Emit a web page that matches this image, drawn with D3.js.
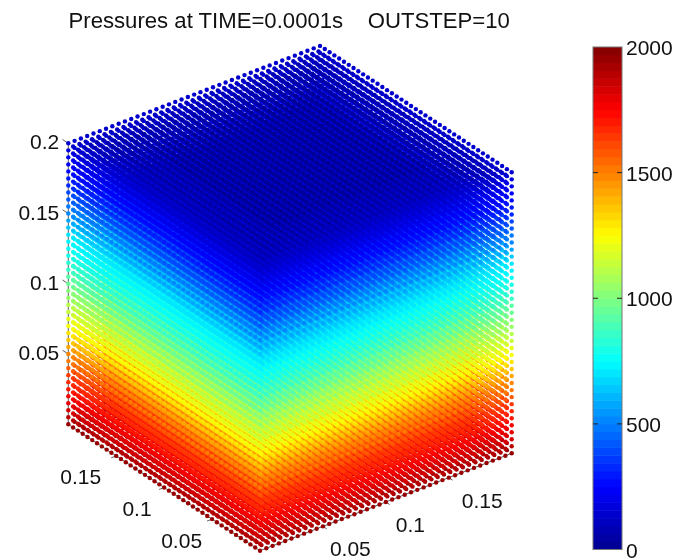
<!DOCTYPE html>
<html>
<head>
<meta charset="utf-8">
<script src="https://d3js.org/d3.v7.min.js"></script>
<style>
  body { margin: 0; background: #fff; }
  #viz { position: relative; width: 677px; height: 560px; overflow: hidden; }
  #viz svg, #viz canvas { position: absolute; left: 0; top: 0; }
  text { font-family: "Liberation Sans", Arial, sans-serif; fill: #111; }
</style>
</head>
<body>
<div id="viz"></div>
<script>
var width = 677;
var height = 560;

// grid coordinates of the solver nodes (metres), 41 per side
var gridCoords = [0, 0.005, 0.01, 0.015, 0.02, 0.025, 0.03, 0.035, 0.04, 0.045, 0.05, 0.055, 0.06, 0.065,
  0.07, 0.075, 0.08, 0.085, 0.09, 0.095, 0.1, 0.105, 0.11, 0.115, 0.12, 0.125, 0.13, 0.135, 0.14, 0.145,
  0.15, 0.155, 0.16, 0.165, 0.17, 0.175, 0.18, 0.185, 0.19, 0.195, 0.2];

var pressureByHeight = [1960, 1890, 1840, 1790, 1750, 1710, 1670, 1630, 1590, 1530, 1470, 1410, 1350, 1290,
  1240, 1200, 1150, 1110, 1060, 1010, 960, 915, 870, 830, 795, 760, 725, 690, 640, 590,
  530, 480, 430, 380, 340, 300, 265, 230, 195, 160, 130];

// pressure change going inwards, by number of nodes from the nearest wall
var pressureByWallDistance = [0, -25, -45, -60, -72, -82, -90, -95, -100, -103, -105, -107, -108, -109, -110, -110, -110, -110, -110, -110, -110];

var xTicks = [0.05, 0.1, 0.15];
var yTicks = [0.05, 0.1, 0.15];
var zTicks = [0.05, 0.1, 0.15, 0.2];
var barTicks = [0, 500, 1000, 1500, 2000];
var barLevels = d3.range(64);

var titleText = "Pressures at TIME=0.0001s    OUTSTEP=10";

// one scale per axis and screen direction, added up in project()
var xToPx = d3.scaleLinear().domain([0, 0.2]).range([0, 251.7]);
var xToPy = d3.scaleLinear().domain([0, 0.2]).range([0, -97.4]);
var yToPx = d3.scaleLinear().domain([0, 0.2]).range([0, -191.7]);
var yToPy = d3.scaleLinear().domain([0, 0.2]).range([0, -126.4]);
var zToPy = d3.scaleLinear().domain([0, 0.2]).range([0, -281]);
var originX = 260;
var originY = 550.7;

function project(x, y, z) {
  return [originX + xToPx(x) + yToPx(y), originY + xToPy(x) + yToPy(y) + zToPy(z)];
}

// jet colormap, 64 steps like the colorbar
var jet = d3.scaleLinear()
  .domain([0, 0.125, 0.375, 0.625, 0.875, 1])
  .range(["#00008f", "#0000ff", "#00ffff", "#ffff00", "#ff0000", "#800000"])
  .clamp(true);
var pressureToLevel = d3.scaleQuantize().domain([0, 2000]).range(barLevels);
function levelColor(l) {
  return jet((l + 0.5) / 64);
}

var svg = d3.select("#viz").append("svg").attr("width", width).attr("height", height);
var canvas = d3.select("#viz").append("canvas").attr("width", width).attr("height", height);
var ctx = canvas.node().getContext("2d");
var labels = d3.select("#viz").append("svg").attr("width", width).attr("height", height);

// title
labels.append("text")
  .attr("x", 68.5)
  .attr("y", 27.5)
  .attr("font-size", 22.15)
  .style("white-space", "pre")
  .text(titleText);

// 3d axes
var axisColor = "#333";

function axisLine(a, b) {
  var p = project(a[0], a[1], a[2]);
  var q = project(b[0], b[1], b[2]);
  svg.append("line")
    .attr("x1", p[0]).attr("y1", p[1])
    .attr("x2", q[0]).attr("y2", q[1])
    .attr("stroke", axisColor)
    .attr("stroke-width", 0.8);
}

axisLine([0, 0.2, 0], [0, 0.2, 0.2]);
axisLine([0, 0, 0], [0, 0.2, 0]);
axisLine([0, 0, 0], [0.2, 0, 0]);

zTicks.forEach(function(t) {
  axisLine([0, 0.2, t], [0, 0.206, t]);
  var p = project(0, 0.2, t);
  labels.append("text").attr("x", p[0] - 9).attr("y", p[1] + 6)
    .attr("text-anchor", "end").attr("font-size", 21).text(t);
});

// labels drift a little along the axis, as in the original
var yLabelShift = d3.scaleLinear().domain([0.05, 0.15]).range([-10, -15]);
var xLabelShift = d3.scaleLinear().domain([0.05, 0.15]).range([7, 13]);

yTicks.forEach(function(t) {
  axisLine([0, t, 0], [-0.004, t, 0]);
  var p = project(0, t, 0);
  labels.append("text").attr("x", p[0] + yLabelShift(t)).attr("y", p[1] + 28.5)
    .attr("text-anchor", "end").attr("font-size", 21).text(t);
});

xTicks.forEach(function(t) {
  axisLine([t, 0, 0], [t, -0.004, 0]);
  var p = project(t, 0, 0);
  labels.append("text").attr("x", p[0] + xLabelShift(t)).attr("y", p[1] + 30)
    .attr("font-size", 21).text(t);
});

// all nodes of the cube, far ones first so the near faces end on top
var nodes = [];
gridCoords.forEach(function(x, i) {
  gridCoords.forEach(function(y, j) {
    gridCoords.forEach(function(z, k) {
      var wall = Math.min(i, j, 40 - i, 40 - j);
      nodes.push({
        x: x, y: y, z: z,
        p: Math.max(10, pressureByHeight[k] + pressureByWallDistance[wall]),
        depth: -53868 * x - 70728 * y + 50487 * z
      });
    });
  });
});
nodes.sort(function(a, b) { return a.depth - b.depth; });

var dotR = 2.2;
nodes.forEach(function(d) {
  var p = project(d.x, d.y, d.z);
  ctx.fillStyle = levelColor(pressureToLevel(d.p));
  ctx.beginPath();
  ctx.arc(p[0], p[1], dotR, 0, 2 * Math.PI);
  ctx.fill();
});

// colorbar
var barY = d3.scaleLinear().domain([0, 2000]).range([549.5, 47]);
var barX = [593, 622];
var bar = svg.append("g");

bar.selectAll("rect")
  .data(barLevels)
  .enter()
  .append("rect")
  .attr("x", barX[0])
  .attr("width", barX[1] - barX[0])
  .attr("y", function(l) { return barY((l + 1) * 2000 / 64); })
  .attr("height", function(l) { return barY(l * 2000 / 64) - barY((l + 1) * 2000 / 64) + 0.5; })
  .attr("fill", levelColor);

bar.append("rect")
  .attr("x", barX[0]).attr("y", barY(2000))
  .attr("width", barX[1] - barX[0]).attr("height", barY(0) - barY(2000))
  .attr("fill", "none")
  .attr("stroke", "#777")
  .attr("stroke-width", 1);

barTicks.forEach(function(t) {
  if(t > 0 && t < 2000) {
    bar.append("line").attr("x1", barX[0]).attr("x2", barX[0] + 5).attr("y1", barY(t)).attr("y2", barY(t)).attr("stroke", "#222");
    bar.append("line").attr("x1", barX[1] - 5).attr("x2", barX[1]).attr("y1", barY(t)).attr("y2", barY(t)).attr("stroke", "#222");
  }
  labels.append("text")
    .attr("x", 626)
    .attr("y", barY(t) + 8)
    .attr("font-size", 21)
    .text(t);
});
</script>
</body>
</html>
